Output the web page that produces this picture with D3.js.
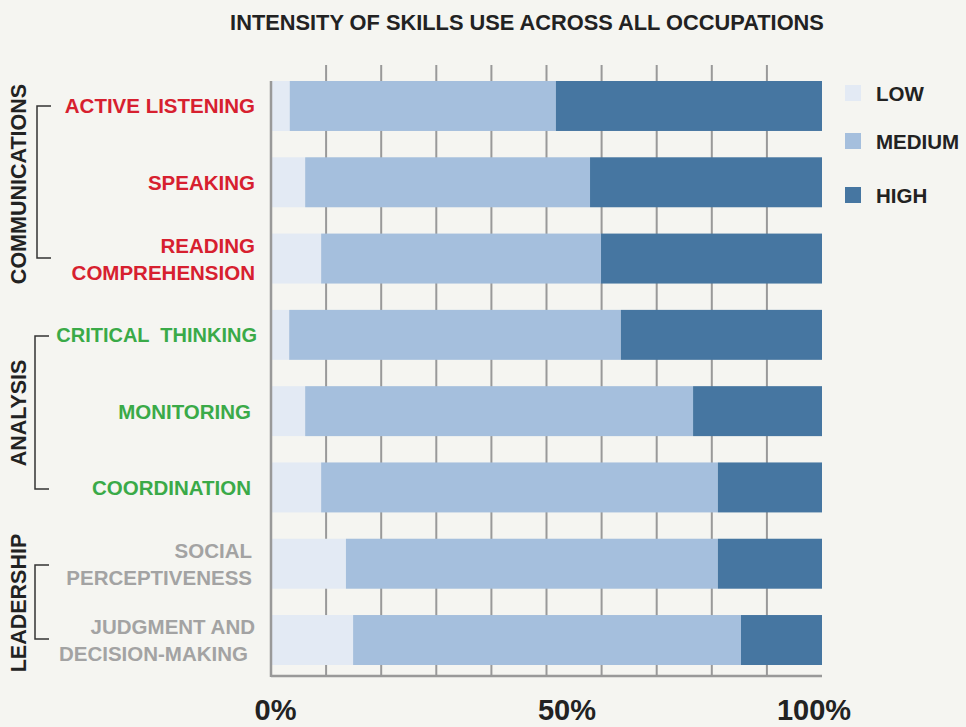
<!DOCTYPE html>
<html>
<head>
<meta charset="utf-8">
<script src="https://cdn.jsdelivr.net/npm/d3@7"></script>
<style>
  body { margin: 0; background: #f5f5f1; overflow: hidden; }
  svg { display: block; font-family: "Liberation Sans", Arial, sans-serif; font-weight: bold; }
</style>
</head>
<body>
<script>
// Skills (top to bottom) and their label lines
const skills = ["Active listening", "Speaking", "Reading comprehension", "Critical thinking",
    "Monitoring", "Coordination", "Social perceptiveness", "Judgment and decision-making"];
const skillLines = [["ACTIVE LISTENING"], ["SPEAKING"], ["READING", "COMPREHENSION"], ["CRITICAL  THINKING"],
    ["MONITORING"], ["COORDINATION"], ["SOCIAL", "PERCEPTIVENESS"], ["JUDGMENT AND", "DECISION-MAKING"]];
const skillGroup = ["comm", "comm", "comm", "analysis", "analysis", "analysis", "lead", "lead"];

// Share of occupations (%) by intensity
const low = [3.4, 6.2, 9.1, 3.3, 6.2, 9.1, 13.6, 14.9];
const medium = [48.3, 51.7, 50.8, 60.2, 70.4, 72.0, 67.5, 70.4];
const high = [48.3, 42.1, 40.1, 36.5, 23.4, 18.9, 18.9, 14.7];

const levels = ["LOW", "MEDIUM", "HIGH"];
const groups = [
    { name: "COMMUNICATIONS", first: 0, last: 2 },
    { name: "ANALYSIS", first: 3, last: 5 },
    { name: "LEADERSHIP", first: 6, last: 7 }
];
const xTicks = [0, 50, 100];

const colors = { LOW: "#e3eaf4", MEDIUM: "#a5bfdd", HIGH: "#4676a1" };
const groupColors = { comm: "#d7202f", analysis: "#3aaa48", lead: "#a3a3a3" };

const w = 966, h = 727;
const margin = { top: 81, right: 144, bottom: 62, left: 271 };

const svg = d3.select("body").append("svg")
    .attr("width", w)
    .attr("height", h);

// table for the stack
const rows = skills.map((s, i) => ({ skill: s, LOW: low[i], MEDIUM: medium[i], HIGH: high[i] }));
const series = d3.stack().keys(levels)(rows);

const x = d3.scaleLinear().domain([0, 100]).range([margin.left, 822]);
const y = d3.scaleBand().domain(skills).range([margin.top, 665]).paddingInner(0.345).paddingOuter(0);

// Title
svg.append("text")
    .attr("x", 527)
    .attr("y", 30)
    .attr("text-anchor", "middle")
    .attr("font-size", 21.8)
    .attr("fill", "#222")
    .text("INTENSITY OF SKILLS USE ACROSS ALL OCCUPATIONS");

// grid lines every 10%
const bottomY = 676;
svg.append("g")
    .selectAll("line")
    .data(d3.range(10, 100, 10))
    .enter()
    .append("line")
    .attr("x1", d => x(d))
    .attr("x2", d => x(d))
    .attr("y1", 65)
    .attr("y2", bottomY)
    .attr("stroke", "#999")
    .attr("stroke-width", 2);

// Bars
svg.append("g")
    .selectAll("g")
    .data(series)
    .enter()
    .append("g")
    .attr("fill", d => colors[d.key])
    .selectAll("rect")
    .data(d => d)
    .enter()
    .append("rect")
    .attr("x", d => x(d[0]))
    .attr("width", d => x(d[1]) - x(d[0]))
    .attr("y", d => y(d.data.skill))
    .attr("height", y.bandwidth());

// Axis lines
svg.append("line")
    .attr("x1", x(0)).attr("x2", x(0))
    .attr("y1", margin.top).attr("y2", bottomY + 1)
    .attr("stroke", "#999").attr("stroke-width", 2.5);
svg.append("line")
    .attr("x1", x(0)).attr("x2", x(100))
    .attr("y1", bottomY).attr("y2", bottomY)
    .attr("stroke", "#999").attr("stroke-width", 2.5);

// x tick labels
const tickShift = { 0: 4.5, 50: 20.5, 100: -8 };
svg.append("g")
    .selectAll("text")
    .data(xTicks)
    .enter()
    .append("text")
    .attr("x", d => x(d) + tickShift[d])
    .attr("y", 720)
    .attr("text-anchor", "middle")
    .attr("font-size", 29)
    .attr("fill", "#222")
    .text(d => d + "%");

// Skill labels
const labelX = { 0: 255, 1: 255, 2: 255, 3: 257, 4: 251, 5: 251, 6: 252, 7: 255 };
const labels = svg.append("g");
skills.forEach((s, i) => {
    const cy = y(s) + y.bandwidth() / 2;
    const lines = skillLines[i];
    lines.forEach((line, j) => {
        const off = (j - (lines.length - 1) / 2) * 27;
        labels.append("text")
            .attr("x", labelX[i] - (i == 7 && j == 1 ? 7 : 0))
            .attr("y", cy + off + 7.5)
            .attr("text-anchor", "end")
            .attr("font-size", i == 3 ? 20 : 20.5)
            .attr("fill", groupColors[skillGroup[i]])
            .style("white-space", "pre")
            .text(line);
    });
});

// Group brackets and rotated names
const bracketX = [37, 35, 35];
const bracketTop = [106, 336, 565];
const bracketBottom = [258, 489, 639];
const nameY = [184, 413, 603];
groups.forEach((g, i) => {
    const bx = bracketX[i];
    svg.append("path")
        .attr("d", `M${bx + 14},${bracketTop[i]}H${bx}V${bracketBottom[i]}H${bx + 14}`)
        .attr("fill", "none")
        .attr("stroke", "#333")
        .attr("stroke-width", 1.5);
    svg.append("text")
        .attr("transform", `translate(26,${nameY[i]}) rotate(-90)`)
        .attr("text-anchor", "middle")
        .attr("font-size", 21.5)
        .attr("fill", "#222")
        .text(g.name);
});

// Legend
const legend = svg.append("g");
const legendY = [85, 133, 187];
levels.forEach((l, i) => {
    legend.append("rect")
        .attr("x", 845)
        .attr("y", legendY[i])
        .attr("width", 16)
        .attr("height", 16)
        .attr("fill", colors[l]);
    legend.append("text")
        .attr("x", 876)
        .attr("y", legendY[i] + 15.5)
        .attr("font-size", 20.5)
        .attr("fill", "#222")
        .text(l);
});
</script>
</body>
</html>
